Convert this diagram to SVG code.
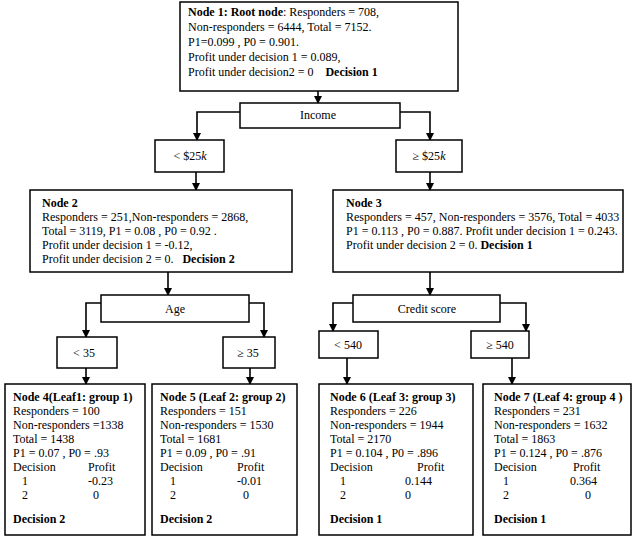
<svg xmlns="http://www.w3.org/2000/svg" width="637" height="540" viewBox="0 0 637 540">
<defs>
<style>
.box{fill:#fff;stroke:#000;stroke-width:1.5}
text{font-family:"Liberation Serif","Times New Roman",serif;font-size:12px;fill:#000}
.b{font-weight:bold}
.c{text-anchor:middle}
.ln{fill:none;stroke:#000;stroke-width:1.6}
</style>
<marker id="ah" markerWidth="8" markerHeight="8" refX="7" refY="4" orient="auto" markerUnits="userSpaceOnUse">
<path d="M0,0 L8,4 L0,8 z" fill="#000"/>
</marker>
</defs>
<rect width="637" height="540" fill="#fff"/>

<g id="connectors">
<path class="ln" d="M318,91 V103" marker-end="url(#ah)"/>
<path class="ln" d="M240,112 H197 V140" marker-end="url(#ah)"/>
<path class="ln" d="M400,112 H430 V140" marker-end="url(#ah)"/>
<path class="ln" d="M196,172 V190" marker-end="url(#ah)"/>
<path class="ln" d="M430,172 V190" marker-end="url(#ah)"/>
<path class="ln" d="M168,272 V295" marker-end="url(#ah)"/>
<path class="ln" d="M430,272 V295" marker-end="url(#ah)"/>
<path class="ln" d="M101,303 H86 V337" marker-end="url(#ah)"/>
<path class="ln" d="M249,303 H264 V337" marker-end="url(#ah)"/>
<path class="ln" d="M353,303 H333 V331" marker-end="url(#ah)"/>
<path class="ln" d="M500,303 H526 V331" marker-end="url(#ah)"/>
<path class="ln" d="M86,368 V384" marker-end="url(#ah)"/>
<path class="ln" d="M250,368 V384" marker-end="url(#ah)"/>
<path class="ln" d="M347,358 V384" marker-end="url(#ah)"/>
<path class="ln" d="M512,358 V384" marker-end="url(#ah)"/>
</g>

<g id="node1">
<rect class="box" x="180" y="2" width="278" height="89"/>
<text x="188" y="16"><tspan class="b">Node 1: Root node</tspan>: Responders = 708,</text>
<text x="188" y="31">Non-responders = 6444,  Total =  7152.</text>
<text x="188" y="46">P1=0.099 ,  P0 = 0.901.</text>
<text x="188" y="61">Profit under decision 1 = 0.089,</text>
<text x="188" y="76" xml:space="preserve">Profit under decision2 = 0    <tspan class="b">Decision 1</tspan></text>
</g>

<g id="income">
<rect class="box" x="240" y="103" width="160" height="25"/>
<text class="c" x="318" y="119">Income</text>
</g>

<g id="lt25k">
<rect class="box" x="155" y="140" width="69" height="32"/>
<text class="c" x="190" y="160">&lt; $25<tspan font-style="italic">k</tspan></text>
</g>

<g id="ge25k">
<rect class="box" x="396" y="140" width="66" height="32"/>
<text class="c" x="429" y="160">≥ $25<tspan font-style="italic">k</tspan></text>
</g>

<g id="node2">
<rect class="box" x="30" y="190" width="262" height="82"/>
<text class="b" x="42" y="207">Node 2</text>
<text x="42" y="221">Responders = 251,Non-responders = 2868,</text>
<text x="42" y="235">Total = 3119, P1 = 0.08 , P0 = 0.92 .</text>
<text x="42" y="249">Profit under decision 1 = -0.12,</text>
<text x="42" y="263" xml:space="preserve">Profit under decision 2 = 0.   <tspan class="b">Decision 2</tspan></text>
</g>

<g id="node3">
<rect class="box" x="333" y="190" width="290" height="82"/>
<text class="b" x="346" y="207">Node 3</text>
<text x="346" y="221">Responders = 457, Non-responders = 3576, Total = 4033</text>
<text x="346" y="235">P1 = 0.113 , P0 = 0.887. Profit under decision 1 = 0.243.</text>
<text x="346" y="249">Profit under decision 2 = 0. <tspan class="b">Decision 1</tspan></text>
</g>

<g id="age">
<rect class="box" x="101" y="295" width="148" height="27"/>
<text class="c" x="175" y="313">Age</text>
</g>

<g id="lt35">
<rect class="box" x="57" y="337" width="60" height="31"/>
<text class="c" x="84" y="357">&lt; 35</text>
</g>

<g id="ge35">
<rect class="box" x="223" y="337" width="52" height="31"/>
<text class="c" x="248" y="357">≥ 35</text>
</g>

<g id="credit">
<rect class="box" x="353" y="295" width="147" height="27"/>
<text class="c" x="427" y="313">Credit score</text>
</g>

<g id="lt540">
<rect class="box" x="319" y="331" width="59" height="27"/>
<text class="c" x="348" y="349">&lt; 540</text>
</g>

<g id="ge540">
<rect class="box" x="471" y="331" width="58" height="27"/>
<text class="c" x="500" y="349">≥ 540</text>
</g>

<g id="node4">
<rect class="box" x="5" y="384" width="140" height="151"/>
<text class="b" x="13" y="401">Node 4(Leaf1: group 1)</text>
<text x="13" y="415">Responders = 100</text>
<text x="13" y="429">Non-responders =1338</text>
<text x="13" y="443">Total = 1438</text>
<text x="13" y="457">P1 = 0.07 , P0 = .93</text>
<text x="13" y="471">Decision</text>
<text x="88" y="471">Profit</text>
<text x="22" y="485">1</text>
<text x="88" y="485">-0.23</text>
<text x="22" y="499">2</text>
<text x="93" y="499">0</text>
<text class="b" x="13" y="523">Decision 2</text>
</g>

<g id="node5">
<rect class="box" x="152" y="384" width="145" height="151"/>
<text class="b" x="160" y="401">Node 5 (Leaf 2: group 2)</text>
<text x="160" y="415">Responders = 151</text>
<text x="160" y="429">Non-responders = 1530</text>
<text x="160" y="443">Total = 1681</text>
<text x="160" y="457">P1 = 0.09 , P0 = .91</text>
<text x="160" y="471">Decision</text>
<text x="237" y="471">Profit</text>
<text x="170" y="485">1</text>
<text x="237" y="485">-0.01</text>
<text x="170" y="499">2</text>
<text x="243" y="499">0</text>
<text class="b" x="160" y="523">Decision 2</text>
</g>

<g id="node6">
<rect class="box" x="319" y="384" width="154" height="151"/>
<text class="b" x="330" y="401">Node 6 (Leaf 3: group 3)</text>
<text x="330" y="415">Responders = 226</text>
<text x="330" y="429">Non-responders = 1944</text>
<text x="330" y="443">Total = 2170</text>
<text x="330" y="457">P1 = 0.104 , P0 = .896</text>
<text x="330" y="471">Decision</text>
<text x="417" y="471">Profit</text>
<text x="340" y="485">1</text>
<text x="405" y="485">0.144</text>
<text x="340" y="499">2</text>
<text x="405" y="499">0</text>
<text class="b" x="330" y="523">Decision 1</text>
</g>

<g id="node7">
<rect class="box" x="483" y="384" width="148" height="151"/>
<text class="b" x="494" y="401">Node 7 (Leaf 4: group 4 )</text>
<text x="494" y="415">Responders = 231</text>
<text x="494" y="429">Non-responders = 1632</text>
<text x="494" y="443">Total = 1863</text>
<text x="494" y="457">P1 = 0.124 , P0 = .876</text>
<text x="494" y="471">Decision</text>
<text x="573" y="471">Profit</text>
<text x="503" y="485">1</text>
<text x="570" y="485">0.364</text>
<text x="503" y="499">2</text>
<text x="585" y="499">0</text>
<text class="b" x="494" y="523">Decision 1</text>
</g>
</svg>
